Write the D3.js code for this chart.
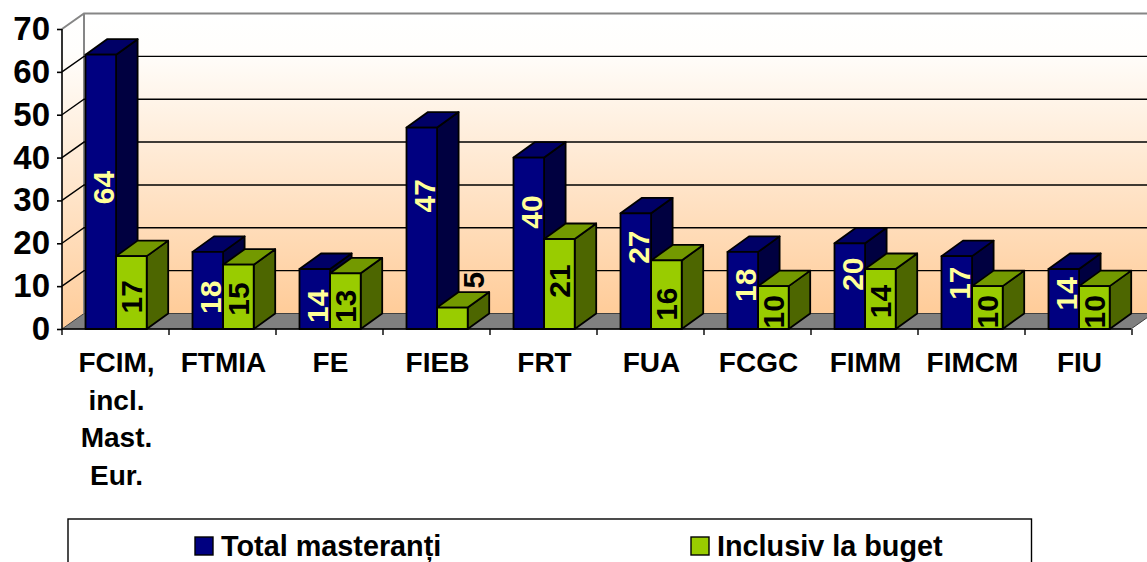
<!DOCTYPE html>
<html><head><meta charset="utf-8">
<script src="https://cdn.jsdelivr.net/npm/d3@7"></script>
<style>html,body{margin:0;padding:0;background:#fff;overflow:hidden}text{font-family:"Liberation Sans",Arial,sans-serif;font-weight:bold}</style>
</head><body><svg id="c" width="1147" height="562"></svg>
<script>
const categories=[["FCIM,","incl.","Mast.","Eur."],["FTMIA"],["FE"],["FIEB"],["FRT"],["FUA"],["FCGC"],["FIMM"],["FIMCM"],["FIU"]];
const totalValues=[64,18,14,47,40,27,18,20,17,14];
const budgetValues=[17,15,13,5,21,16,10,14,10,10];
const seriesNames=["Total masteranți","Inclusiv la buget"];
const yTicks=[0,10,20,30,40,50,60,70];
// where each rotated data label sits, in axis units
const totalLabelAt=[33,7.4,5.3,31.1,27.3,19.1,10.2,12.8,10.7,8.2];
const budgetLabelAt=[7.5,7,5.3,11.4,11.2,5.8,4,6.4,4,4];

const svg=d3.select("#c");
const defs=svg.append("defs");
const g=defs.append("linearGradient").attr("id","wall").attr("x1",0).attr("y1",0).attr("x2",0).attr("y2",1);
g.append("stop").attr("offset",0).attr("stop-color","#ffffff");
g.append("stop").attr("offset",0.12).attr("stop-color","#fffefc");
g.append("stop").attr("offset",1).attr("stop-color","#ffcc99");

const y=d3.scaleLinear().domain([0,70]).range([329,29]);
const x=d3.scaleBand().domain(d3.range(categories.length)).range([62,1132]);
const dx=21.5,dy=15.5;
const barW=30.6, barOff=23.5;

const pts=a=>a.map(p=>p.join(",")).join(" ");
// walls
svg.append("polygon").attr("points",pts([[62,y(70)],[84,y(70)-dy],[84,y(0)-dy],[62,y(0)]])).attr("fill","url(#wall)");
svg.append("rect").attr("x",84).attr("y",y(70)-dy).attr("width",1063).attr("height",y(0)-y(70)).attr("fill","url(#wall)");
// floor
svg.append("polygon").attr("points",pts([[62,y(0)],[84,y(0)-dy],[1153,y(0)-dy],[1131,y(0)]])).attr("fill","#808080").attr("stroke","#404040").attr("stroke-width",1);
// wall borders
svg.append("path").attr("d",`M62,${y(70)}L84,${y(70)-dy}H1147M84,${y(70)-dy}V${y(0)-dy}`).attr("fill","none").attr("stroke","#868686").attr("stroke-width",2);
// grid
yTicks.slice(1,-1).forEach(t=>{
  svg.append("path").attr("d",`M62,${y(t)}L84,${y(t)-dy}H1147`).attr("fill","none").attr("stroke","#000").attr("stroke-width",1.4);
});
// axes
svg.append("g").call(d3.axisLeft(y).tickValues(yTicks).tickSize(5).tickPadding(7))
 .attr("transform","translate(62,0)").call(a=>{a.select(".domain").attr("stroke","#000").attr("stroke-width",1.6).attr("d","M0,29V329");
   a.selectAll("line").attr("stroke","#000").attr("stroke-width",1.6);
   a.selectAll("text").attr("font-size",33).attr("fill","#000").attr("font-family",null);});
const tickPos=d3.range(categories.length+1).map(i=>62+x.step()*i);
svg.append("path").attr("d",`M62,329H1131`).attr("stroke","#000").attr("stroke-width",1.6);
svg.selectAll(".xt").data(tickPos).join("line").attr("x1",d=>d).attr("x2",d=>d).attr("y1",329).attr("y2",335).attr("stroke","#000").attr("stroke-width",1.4);

function bar(x0,v,front,top,side){
  const t=y(v),b=y(0),r=x0+barW;
  const n=svg.append("g").attr("stroke","#000").attr("stroke-width",1.8).attr("stroke-linejoin","round");
  n.append("polygon").attr("points",pts([[r,b],[r+dx,b-dy],[r+dx,t-dy],[r,t]])).attr("fill",side);
  n.append("polygon").attr("points",pts([[x0,t],[x0+dx,t-dy],[r+dx,t-dy],[r,t]])).attr("fill",top);
  n.append("rect").attr("x",x0).attr("y",t).attr("width",barW).attr("height",b-t).attr("fill",front);
}
function label(cx,at,v,c){
  svg.append("text").attr("transform",`translate(${cx},${y(at)}) rotate(-90)`).attr("text-anchor","middle").attr("dy","0.36em")
   .attr("font-size",30).attr("fill",c).text(v);
}
categories.forEach((c,i)=>{
  const x0=x(i)+barOff;
  bar(x0,totalValues[i],"#000080","#000066","#000040");
  bar(x0+barW,budgetValues[i],"#99CC00","#739900","#4D6600");
  label(x0+barW/2+2,totalLabelAt[i],totalValues[i],"#FFFF99");
  label(x0+barW*1.5+(budgetValues[i]===5?21:0),budgetLabelAt[i],budgetValues[i],"#000");
  const t=svg.append("text").attr("text-anchor","middle").attr("font-size",28).attr("fill","#000");
  c.forEach((s,k)=>t.append("tspan").attr("x",x(i)+x.step()/2+1).attr("y",372+k*37.7).text(s));
});
// legend
svg.append("rect").attr("x",68).attr("y",519).attr("width",963.5).attr("height",60).attr("fill","#fff").attr("stroke","#000").attr("stroke-width",1.4);
const lx=[195,691],lc=["#000080","#99CC00"];
seriesNames.forEach((s,i)=>{
  svg.append("rect").attr("x",lx[i]).attr("y",537).attr("width",18).attr("height",18).attr("fill",lc[i]).attr("stroke","#000").attr("stroke-width",1.4);
  svg.append("text").attr("x",lx[i]+26).attr("y",556).attr("font-size",28.8).attr("fill","#000").text(s);
});
</script></body></html>
